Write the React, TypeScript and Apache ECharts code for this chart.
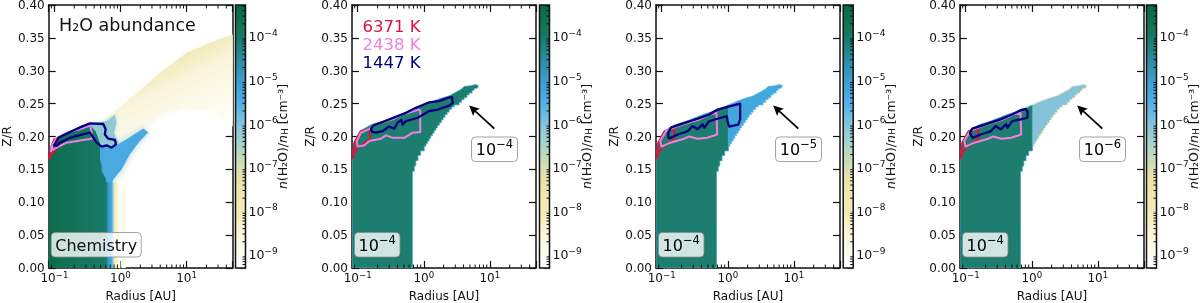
import React, { useEffect, useRef } from "react";
import * as echarts from "echarts";

type P = [number, number];

const yTicksMax = 0.4;
const xMin = 0.082;
const xMax = 50;
const cbMin = 5e-10;
const cbMax = 5.4e-4;

const xMinorTicks = [0.09, 0.2, 0.3, 0.4, 0.5, 0.6, 0.7, 0.8, 0.9, 2, 3, 4, 5, 6, 7, 8, 9, 20, 30, 40];
const cbMinorTicks = [
  6e-10, 7e-10, 8e-10, 9e-10, 2e-9, 3e-9, 4e-9, 5e-9, 6e-9, 7e-9, 8e-9, 9e-9,
  2e-8, 3e-8, 4e-8, 5e-8, 6e-8, 7e-8, 8e-8, 9e-8, 2e-7, 3e-7, 4e-7, 5e-7, 6e-7, 7e-7, 8e-7, 9e-7,
  2e-6, 3e-6, 4e-6, 5e-6, 6e-6, 7e-6, 8e-6, 9e-6, 2e-5, 3e-5, 4e-5, 5e-5, 6e-5, 7e-5, 8e-5, 9e-5,
  2e-4, 3e-4, 4e-4, 5e-4,
];
const cbValues = [5e-10, 1e-9, 3e-9, 1e-8, 4e-8, 1e-7, 3e-7, 1e-6, 2.2e-6, 4.5e-6, 1e-5, 3e-5, 1e-4, 2.5e-4, 5.4e-4];
const cbColors = ["#ffffff", "#fdfcf1", "#f9f6da", "#f3ecb8", "#eee4a8", "#d4e0b0", "#b0d6c8", "#85c3dc", "#5fb5e0", "#46a9e3", "#3b9fcc", "#2a8ca0", "#167a66", "#107050", "#0b6a45"];

// wedge of the fixed-abundance panels: [radius AU, Z/R]
const coreLower: P[] = [[0.082, 0], [0.677, 0], [0.677, 0.147], [0.72, 0.147], [0.72, 0.155], [0.76, 0.155], [0.76, 0.163], [0.82, 0.163], [0.82, 0.171], [0.9, 0.171], [0.9, 0.178], [1.02, 0.178]];
const tailLower: P[] = [[1.02, 0.185], [1.08, 0.185], [1.08, 0.189], [1.14, 0.189], [1.14, 0.193], [1.21, 0.193], [1.21, 0.197], [1.28, 0.197], [1.28, 0.201], [1.36, 0.201], [1.36, 0.205], [1.44, 0.205], [1.44, 0.209], [1.53, 0.209], [1.53, 0.213], [1.62, 0.213], [1.62, 0.217], [1.73, 0.217], [1.73, 0.221], [1.85, 0.221], [1.85, 0.225], [1.97, 0.225], [1.97, 0.229], [2.1, 0.229], [2.1, 0.233], [2.26, 0.233], [2.26, 0.237], [2.43, 0.237], [2.43, 0.241], [2.65, 0.241], [2.65, 0.245], [2.9, 0.245], [2.9, 0.248], [3.44, 0.248], [3.44, 0.252], [3.75, 0.252], [3.75, 0.256], [4.09, 0.256], [4.09, 0.259], [4.5, 0.259], [4.5, 0.263], [4.87, 0.263], [4.87, 0.266], [5.4, 0.266], [5.4, 0.27], [5.8, 0.27], [5.8, 0.273], [6.3, 0.273], [6.66, 0.275]];
const tailUpper: P[] = [[6.66, 0.278], [6.0, 0.279], [5.0, 0.277], [4.09, 0.2764], [3.7, 0.272], [3.4, 0.27], [2.89, 0.266], [2.43, 0.262], [1.8, 0.258], [1.36, 0.2537], [1.02, 0.248]];
const coreUpper: P[] = [[0.76, 0.242], [0.426, 0.2335], [0.239, 0.2235], [0.159, 0.218], [0.106, 0.208], [0.089, 0.191], [0.082, 0.1665]];

const wedgeCore: P[] = [...coreLower, [1.02, 0.248], ...coreUpper];
const wedgeTail: P[] = [[1.02, 0.178], ...tailLower, ...tailUpper];
const wedgeFull: P[] = [...coreLower, ...tailLower, ...tailUpper, ...coreUpper];

// contours
const red6371: P[] = [[0.084, 0.167], [0.089, 0.176], [0.104, 0.184], [0.122, 0.189], [0.154, 0.196], [0.154, 0.211], [0.112, 0.208], [0.1, 0.2], [0.089, 0.191]];
const pink2438Fixed: P[] = [[0.1, 0.1846], [0.0965, 0.193], [0.112, 0.206], [0.154, 0.212], [0.179, 0.218], [0.338, 0.226], [0.479, 0.2335], [0.855, 0.241], [0.885, 0.2386], [0.885, 0.2068], [0.677, 0.2058], [0.507, 0.198], [0.338, 0.198], [0.268, 0.2018], [0.225, 0.1967], [0.15, 0.193], [0.126, 0.1866]];
const pink2438Short: P[] = [[0.1, 0.1846], [0.095, 0.193], [0.116, 0.208], [0.174, 0.216], [0.35, 0.225], [0.526, 0.2335], [0.677, 0.236], [0.69, 0.203], [0.49, 0.198], [0.35, 0.1967], [0.26, 0.2], [0.207, 0.1957], [0.13, 0.19]];
const navy1447A: P[] = [[0.159, 0.212], [0.173, 0.217], [0.239, 0.222], [0.426, 0.232], [0.538, 0.236], [0.76, 0.2436], [1.21, 0.252], [1.71, 0.2537], [2.3, 0.2588], [2.67, 0.26], [2.75, 0.251], [2.43, 0.247], [1.62, 0.241], [1.21, 0.2386], [0.81, 0.2285], [0.538, 0.2235], [0.479, 0.218], [0.46, 0.225], [0.4, 0.221], [0.36, 0.212], [0.294, 0.215], [0.239, 0.208], [0.189, 0.206], [0.165, 0.207]];
const navy1447B: P[] = [[0.126, 0.198], [0.126, 0.206], [0.138, 0.2134], [0.185, 0.218], [0.35, 0.227], [0.526, 0.2335], [0.7, 0.241], [0.99, 0.245], [1.54, 0.25], [1.54, 0.226], [1.44, 0.218], [1.05, 0.215], [0.99, 0.2235], [0.97, 0.231], [0.7, 0.227], [0.526, 0.2235], [0.44, 0.2134], [0.416, 0.2184], [0.35, 0.211], [0.294, 0.216], [0.247, 0.208], [0.174, 0.203], [0.138, 0.198]];
const navy1447C: P[] = [[0.116, 0.2058], [0.126, 0.212], [0.179, 0.217], [0.338, 0.226], [0.507, 0.2335], [0.677, 0.24], [0.81, 0.242], [0.87, 0.237], [0.855, 0.2285], [0.677, 0.226], [0.507, 0.2235], [0.43, 0.2134], [0.41, 0.2184], [0.338, 0.211], [0.284, 0.216], [0.239, 0.208], [0.169, 0.203], [0.126, 0.198]];

// chemistry panel
const chemHazeArc: P[] = [[0.6, 0.226], [0.78, 0.236], [1.56, 0.2613], [3.95, 0.2966], [10, 0.327], [25, 0.3445], [50, 0.3546], [50, 0.215], [45, 0.2235], [25, 0.241], [10, 0.2436], [4.98, 0.236], [2.22, 0.2134], [1.39, 0.173], [1.04, 0.135], [0.9, 0.12], [0.7, 0.13]];
const chemStreak: P[] = [[1.04, 0], [1.04, 0.125], [1.2, 0.125], [1.2, 0]];
const chemBlueUpper: P[] = [[0.346, 0.2184], [0.62, 0.2235], [0.825, 0.2335], [0.874, 0.221], [0.8, 0.205], [0.95, 0.19], [0.7, 0.18], [0.45, 0.18]];
const chemBlueLower: P[] = [[0.45, 0.185], [0.825, 0.1856], [1.24, 0.1957], [2.22, 0.212], [2.64, 0.206], [1.97, 0.193], [1.39, 0.173], [1.04, 0.15], [0.78, 0.135], [0.7, 0.12], [0.45, 0.12]];
const chemStrip: P[] = [[0.55, 0], [1.0, 0], [1.0, 0.11], [0.9, 0.13], [0.55, 0.13]];
const chemCore: P[] = [[0.082, 0], [0.604, 0], [0.604, 0.135], [0.52, 0.148], [0.52, 0.155], [0.49, 0.165], [0.49, 0.19], [0.42, 0.208], [0.346, 0.217], [0.244, 0.2134], [0.154, 0.206], [0.102, 0.193], [0.086, 0.17], [0.082, 0.165]];
const chemRed: P[] = [[0.083, 0.166], [0.09, 0.172], [0.108, 0.182], [0.12, 0.19], [0.1, 0.196], [0.09, 0.185]];
const chemPink: P[] = [[0.088, 0.178], [0.091, 0.1856], [0.108, 0.198], [0.163, 0.2068], [0.244, 0.211], [0.346, 0.2165], [0.368, 0.206], [0.368, 0.1967], [0.274, 0.1947], [0.153, 0.1906], [0.108, 0.183]];
const chemNavy: P[] = [[0.099, 0.1866], [0.115, 0.198], [0.172, 0.2068], [0.259, 0.215], [0.346, 0.22], [0.55, 0.219], [0.597, 0.211], [0.58, 0.203], [0.655, 0.1967], [0.825, 0.1947], [0.855, 0.188], [0.735, 0.183], [0.62, 0.1866], [0.52, 0.1846], [0.436, 0.1906], [0.39, 0.198], [0.346, 0.2058], [0.259, 0.203], [0.172, 0.198], [0.122, 0.1906], [0.108, 0.1856]];

const arrowTip: P = [4.87, 0.247];
const arrowTail: P = [11.7, 0.212];

const yLabels = ["0.00", "0.05", "0.10", "0.15", "0.20", "0.25", "0.30", "0.35", "0.40"];
const tempLabels = ["6371 K", "2438 K", "1447 K"];
const tempColors = ["#e0103c", "#f080e0", "#000080"];
const panelLefts = [48.7, 352, 656, 960];
const cbLefts = [235.5, 539.5, 843.2, 1146.5];
const annotationExps = ["", "−4", "−5", "−6"];
const tailColors = ["", "#1d7d6e", "#41a8dd", "#85c3db"];
const tailStrokes = ["", "#5db5dd", "#6fbfe0", "#d8e0a0"];
const navyByPanel = [chemNavy, navy1447A, navy1447B, navy1447C];
const pinkByPanel = [chemPink, pink2438Fixed, pink2438Short, pink2438Short];
const redByPanel = [chemRed, red6371, red6371, red6371];

const FONT = "DejaVu Sans";
const powLabel = (v: number) => {
  const e = Math.log10(v);
  if (Math.abs(e - Math.round(e)) > 1e-6) return "";
  const r = Math.round(e);
  return "{b|10}{s|" + (r < 0 ? "−" + -r : String(r)) + "}";
};
const powRich = (size: number) => ({
  b: { fontFamily: FONT, fontSize: size, color: "#111" },
  s: { fontFamily: FONT, fontSize: size * 0.72, color: "#111", padding: [0, 0, size * 0.62, 0] },
});

function buildOption() {
  const grid: any[] = [];
  const xAxis: any[] = [];
  const yAxis: any[] = [];
  const series: any[] = [];
  const graphic: any[] = [];
  const line = { lineStyle: { color: "#111", width: 1.5 } };

  const poly = (xi: number, yi: number, pts: P[], style: any, z = 2) => {
    series.push({
      type: "custom", coordinateSystem: "cartesian2d", xAxisIndex: xi, yAxisIndex: yi, z, clip: true, silent: true,
      data: [pts[0]], encode: { x: 0, y: 1 },
      renderItem: (_: any, api: any) => ({ type: "polygon", shape: { points: pts.map((p) => api.coord(p)) }, style }),
    });
  };

  panelLefts.forEach((left, i) => {
    const gi = grid.length;
    grid.push({ left, top: 5, width: 184, height: 263, outerBoundsMode: "none", containLabel: false });
    const xb = xAxis.length;
    xAxis.push({
      type: "log", logBase: 10, gridIndex: gi, min: xMin, max: xMax, position: "bottom", splitNumber: 3,
      axisLine: { show: true, onZero: false, ...line }, axisTick: { inside: true, length: 7, lineStyle: { color: "#111", width: 1.2 } },
      splitLine: { show: false }, minorTick: { show: false },
      axisLabel: { formatter: powLabel, rich: powRich(12), margin: 2, hideOverlap: false },
      name: "Radius [AU]", nameLocation: "middle", nameGap: 22, nameTextStyle: { fontFamily: FONT, fontSize: 12, color: "#111" },
    });
    xAxis.push({
      type: "log", logBase: 10, gridIndex: gi, min: xMin, max: xMax, position: "top", splitNumber: 3,
      axisLine: { show: true, onZero: false, ...line }, axisTick: { inside: true, length: 7, lineStyle: { color: "#111", width: 1.2 } },
      axisLabel: { show: false }, splitLine: { show: false },
    });
    const yl = yAxis.length;
    yAxis.push({
      type: "value", gridIndex: gi, min: 0, max: yTicksMax, interval: 0.05, position: "left",
      axisLine: { show: true, onZero: false, ...line }, axisTick: { inside: true, length: 7, lineStyle: { color: "#111", width: 1.2 } },
      splitLine: { show: false },
      axisLabel: { formatter: (v: number) => yLabels[Math.round(v / 0.05)], fontFamily: FONT, fontSize: 12, lineHeight: 9, color: "#111", margin: 4 },
      name: "Z/R", nameLocation: "middle", nameGap: 36, nameRotate: 90, nameTextStyle: { fontFamily: FONT, fontSize: 12, color: "#111" },
    });
    yAxis.push({
      type: "value", gridIndex: gi, min: 0, max: yTicksMax, interval: 0.05, position: "right",
      axisLine: { show: true, onZero: false, ...line }, axisTick: { inside: true, length: 7, lineStyle: { color: "#111", width: 1.2 } },
      axisLabel: { show: false }, splitLine: { show: false },
    });

    if (i === 0) {
      poly(xb, yl, chemHazeArc, {
        fill: new echarts.graphic.LinearGradient(180, 52, 220, 132, [
          { offset: 0, color: "#f1e9b8" }, { offset: 0.15, color: "#f4eec6" }, { offset: 0.3, color: "#f9f5dc" },
          { offset: 0.5, color: "#fbf9e6" }, { offset: 0.8, color: "#fdfcf0" }, { offset: 1, color: "#fffefa" },
        ], true),
        shadowBlur: 4, shadowColor: "#fbf9e6",
      }, 1);
      poly(xb, yl, chemStreak, { fill: "#fcfae8" }, 1);
      poly(xb, yl, chemBlueUpper, { fill: "#8ec9d4", shadowColor: "#c5e2d8", shadowBlur: 5 }, 2);
      poly(xb, yl, chemBlueLower, { fill: "#4aa9e0", shadowColor: "#a5d5e5", shadowBlur: 7 }, 2);
      poly(xb, yl, chemStrip, {
        fill: new echarts.graphic.LinearGradient(0, 0, 1, 0, [
          { offset: 0, color: "#17786a" }, { offset: 0.16, color: "#1d7d6e" }, { offset: 0.32, color: "#3b9fcc" },
          { offset: 0.48, color: "#46a9e3" }, { offset: 0.58, color: "#a0d0d8" }, { offset: 0.64, color: "#efe7b0" },
          { offset: 0.8, color: "#f8f4d4" }, { offset: 1, color: "#ffffff" },
        ]),
      }, 2);
      poly(xb, yl, chemCore, {
        fill: new echarts.graphic.LinearGradient(0, 0, 1, 0, [
          { offset: 0, color: "#0c6b4c" }, { offset: 0.2, color: "#0f7052" }, { offset: 1, color: "#1a7a6a" },
        ]),
      }, 3);
    } else if (i === 1) {
      poly(xb, yl, wedgeFull, { fill: "#1d7d6e", stroke: "#5db5dd", lineWidth: 0.7 }, 2);
    } else {
      poly(xb, yl, wedgeTail, { fill: tailColors[i], stroke: tailStrokes[i], lineWidth: 0.7 }, 2);
      poly(xb, yl, wedgeCore, { fill: "#1d7d6e", stroke: "#4aa6cc", lineWidth: 0.7 }, 3);
    }
    poly(xb, yl, redByPanel[i], { fill: "none", stroke: "#e0103c", lineWidth: 2, lineJoin: "round" }, 4);
    poly(xb, yl, pinkByPanel[i], { fill: "none", stroke: "#f080e0", lineWidth: 2, lineJoin: "round" }, 5);
    poly(xb, yl, navyByPanel[i], { fill: "none", stroke: "#000080", lineWidth: 2.3, lineJoin: "round" }, 6);

    // minor ticks of the log axis
    series.push({
      type: "custom", coordinateSystem: "cartesian2d", xAxisIndex: xb, yAxisIndex: yl, z: 7, silent: true, clip: false,
      data: xMinorTicks.map((v) => [v, 0]), encode: { x: 0, y: 1 },
      renderItem: (_: any, api: any) => {
        const v = api.value(0);
        const b = api.coord([v, 0]);
        const t = api.coord([v, yTicksMax]);
        const st = { stroke: "#111", lineWidth: 1 };
        return {
          type: "group",
          children: [
            { type: "line", shape: { x1: b[0], y1: b[1], x2: b[0], y2: b[1] - 3.5 }, style: st },
            { type: "line", shape: { x1: t[0], y1: t[1], x2: t[0], y2: t[1] + 3.5 }, style: st },
          ],
        };
      },
    });

    // arrow to the tail of the wedge
    if (i > 0) {
      series.push({
        type: "custom", coordinateSystem: "cartesian2d", xAxisIndex: xb, yAxisIndex: yl, z: 8, silent: true,
        data: [arrowTip], encode: { x: 0, y: 1 },
        renderItem: (_: any, api: any) => {
          const a = api.coord(arrowTip);
          const b = api.coord(arrowTail);
          const ang = Math.atan2(b[1] - a[1], b[0] - a[0]);
          const at = (d: number, s: number) => [a[0] + d * Math.cos(ang) - s * Math.sin(ang), a[1] + d * Math.sin(ang) + s * Math.cos(ang)];
          return {
            type: "group",
            children: [
              { type: "line", shape: { x1: at(6, 0)[0], y1: at(6, 0)[1], x2: b[0], y2: b[1] }, style: { stroke: "#000", lineWidth: 1.7 } },
              { type: "polygon", shape: { points: [at(0, 0), at(10, 5), at(8, 0), at(10, -5)] }, style: { fill: "#000" } },
            ],
          };
        },
      });
    }

    // box labels
    const boxW = i === 0 ? 90 : 45.5;
    graphic.push({ type: "rect", z: 50, shape: { x: left + 2.5, y: 232.5, width: boxW, height: 24.5, r: 4 }, style: { fill: "rgba(255,255,255,0.8)", stroke: "#8a8a8a", lineWidth: 0.8 } });
    graphic.push({
      type: "text", z: 51, x: left + 2.5 + boxW / 2, y: 245,
      style: i === 0
        ? { text: "Chemistry", fontFamily: FONT, fontSize: 16, fill: "#111", align: "center", verticalAlign: "middle" }
        : { text: "{b|10}{s|−4}", rich: powRich(16), align: "center", verticalAlign: "middle" },
    });
    if (i > 0) {
      graphic.push({ type: "rect", z: 50, shape: { x: left + 119.5, y: 137, width: 46, height: 24.5, r: 4 }, style: { fill: "#fff", stroke: "#8a8a8a", lineWidth: 0.8 } });
      graphic.push({ type: "text", z: 51, x: left + 142.5, y: 149, style: { text: "{b|10}{s|" + annotationExps[i] + "}", rich: powRich(16), align: "center", verticalAlign: "middle" } });
    }

    // colour bar
    const cg = grid.length;
    grid.push({ left: cbLefts[i], top: 5, width: 10, height: 263, outerBoundsMode: "none", containLabel: false });
    const cx = xAxis.length;
    xAxis.push({ type: "value", gridIndex: cg, min: 0, max: 1, show: false });
    const cy = yAxis.length;
    yAxis.push({
      type: "log", logBase: 10, gridIndex: cg, min: cbMin, max: cbMax, position: "right", splitNumber: 7,
      axisLine: { show: false, onZero: false }, axisTick: { inside: true, length: 6, lineStyle: { color: "#111", width: 1.2 } },
      splitLine: { show: false },
      axisLabel: { formatter: powLabel, rich: powRich(12.5), margin: 3 },
      name: "{i|n}(H₂O)/{i|n}{s|H} [cm⁻³]", nameLocation: "middle", nameRotate: 90, nameGap: 37, nameMoveOverlap: false,
      nameTextStyle: { fontFamily: FONT, fontSize: 12.5, color: "#111", verticalAlign: "middle", rich: { i: { fontStyle: "italic", fontFamily: FONT, fontSize: 12.5, color: "#111" }, s: { fontFamily: FONT, fontSize: 9, color: "#111", padding: [4, 0, 0, 0] } } },
    });
    const segs = cbValues.slice(1).map((v, k) => [cbValues[k], v, k]);
    series.push({
      type: "custom", coordinateSystem: "cartesian2d", xAxisIndex: cx, yAxisIndex: cy, z: 2, silent: true,
      data: segs.map((s) => [0, s[0], s[1], s[2]]), encode: { x: 0, y: 1 },
      renderItem: (_: any, api: any) => {
        const k = api.value(3);
        const lo = api.coord([0, api.value(1)]);
        const hi = api.coord([1, api.value(2)]);
        return {
          type: "rect",
          shape: { x: lo[0], y: hi[1], width: hi[0] - lo[0], height: lo[1] - hi[1] + 0.5 },
          style: { fill: new echarts.graphic.LinearGradient(0, 0, 0, 1, [{ offset: 0, color: cbColors[k + 1] }, { offset: 1, color: cbColors[k] }]) },
        };
      },
    });
    series.push({
      type: "custom", coordinateSystem: "cartesian2d", xAxisIndex: cx, yAxisIndex: cy, z: 3, silent: true,
      data: cbMinorTicks.map((v) => [1, v]), encode: { x: 0, y: 1 },
      renderItem: (_: any, api: any) => {
        const p = api.coord([1, api.value(1)]);
        return { type: "line", shape: { x1: p[0], y1: p[1], x2: p[0] - 3, y2: p[1] }, style: { stroke: "#111", lineWidth: 1 } };
      },
    });
    series.push({
      type: "custom", coordinateSystem: "cartesian2d", xAxisIndex: cx, yAxisIndex: cy, z: 4, silent: true,
      data: [[0, cbMin]], encode: { x: 0, y: 1 },
      renderItem: (_: any, api: any) => {
        const lo = api.coord([0, cbMin]);
        const hi = api.coord([1, cbMax]);
        return { type: "rect", shape: { x: lo[0], y: hi[1], width: hi[0] - lo[0], height: lo[1] - hi[1] }, style: { fill: "none", stroke: "#111", lineWidth: 1.5 } };
      },
    });
  });

  graphic.push({ type: "text", z: 51, x: 59, y: 25, style: { text: "H₂O abundance", fontFamily: FONT, fontSize: 17.5, fill: "#111", verticalAlign: "middle" } });
  tempLabels.forEach((t, k) => {
    graphic.push({ type: "text", z: 51, x: 362.5, y: 26 + k * 18, style: { text: t, fontFamily: FONT, fontSize: 16.5, fill: tempColors[k], verticalAlign: "middle" } });
  });

  return { animation: false, backgroundColor: "#fff", grid, xAxis, yAxis, series, graphic };
}

export default function App() {
  const ref = useRef<HTMLDivElement>(null);
  useEffect(() => {
    document.body.style.margin = "0";
    const chart = echarts.init(ref.current!, undefined, { renderer: "svg" });
    chart.setOption(buildOption());
    return () => chart.dispose();
  }, []);
  return <div ref={ref} style={{ width: 1200, height: 303, filter: "blur(0.35px)" }} />;
}
